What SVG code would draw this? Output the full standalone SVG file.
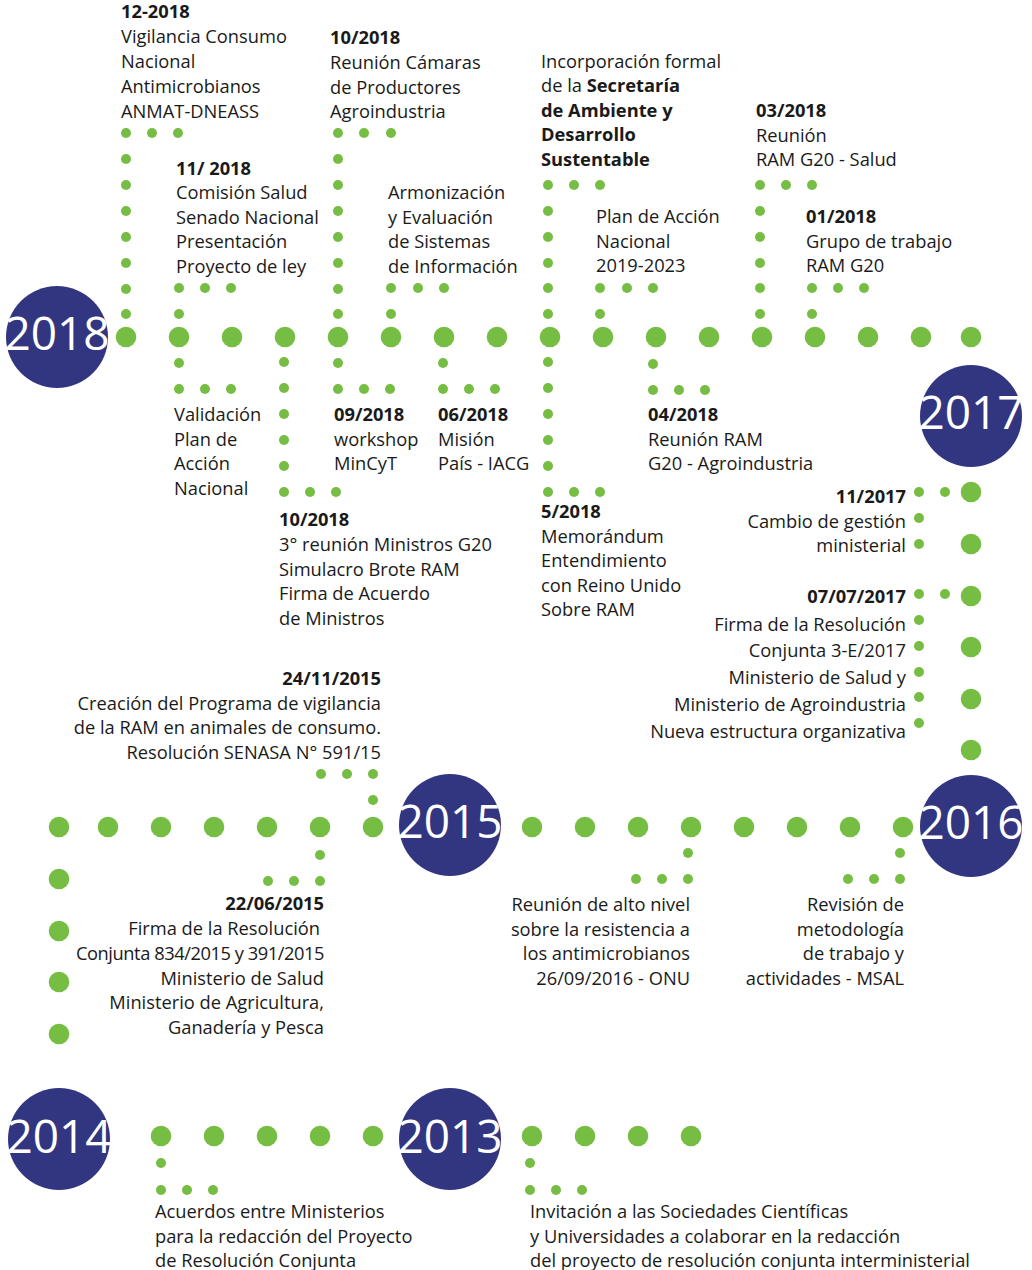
<svg xmlns="http://www.w3.org/2000/svg" width="1032" height="1270" viewBox="0 0 1032 1270">
<style>
text{font-family:"Open Sans","Noto Sans","Liberation Sans",sans-serif;font-size:18.3px;fill:#1a1a1a}
.b{font-weight:700}
.e{text-anchor:end}
.n{letter-spacing:-0.45px}
.yr{fill:#32357f}
text.yt{font-size:46px;fill:#ffffff;text-anchor:middle}
.g{fill:#76bd43}
</style>
<defs>
<circle id="B" r="10.3"/>
<circle id="s" r="5"/>
</defs>
<rect width="1032" height="1270" fill="#ffffff"/>

<g id="connectors" class="g">
  <g id="row-2018">
    <use href="#B" x="126" y="337"/><use href="#B" x="179" y="337"/><use href="#B" x="232" y="337"/><use href="#B" x="285" y="337"/>
    <use href="#B" x="338" y="337"/><use href="#B" x="391" y="337"/><use href="#B" x="444" y="337"/><use href="#B" x="497" y="337"/>
    <use href="#B" x="550" y="337"/><use href="#B" x="603" y="337"/><use href="#B" x="656" y="337"/><use href="#B" x="709" y="337"/>
    <use href="#B" x="762" y="337"/><use href="#B" x="815" y="337"/><use href="#B" x="868" y="337"/><use href="#B" x="921" y="337"/>
    <use href="#B" x="971" y="337"/>
  </g>
  <g id="col-2017">
    <use href="#B" x="971" y="492"/><use href="#B" x="971" y="544"/><use href="#B" x="971" y="596"/>
    <use href="#B" x="971" y="647"/><use href="#B" x="971" y="699"/><use href="#B" x="971" y="750"/>
  </g>
  <g id="row-2016-2015">
    <use href="#B" x="532" y="827"/><use href="#B" x="585" y="827"/><use href="#B" x="638" y="827"/><use href="#B" x="691" y="827"/>
    <use href="#B" x="744" y="827"/><use href="#B" x="797" y="827"/><use href="#B" x="850" y="827"/><use href="#B" x="903" y="827"/>
    <use href="#B" x="59" y="827"/><use href="#B" x="108" y="827"/><use href="#B" x="161" y="827"/><use href="#B" x="214" y="827"/>
    <use href="#B" x="267" y="827"/><use href="#B" x="320" y="827"/><use href="#B" x="373" y="827"/>
  </g>
  <g id="col-2015-2014">
    <use href="#B" x="59" y="879"/><use href="#B" x="59" y="931"/><use href="#B" x="59" y="982"/><use href="#B" x="59" y="1034"/>
  </g>
  <g id="row-2014-2013">
    <use href="#B" x="161" y="1136"/><use href="#B" x="214" y="1136"/><use href="#B" x="267" y="1136"/><use href="#B" x="320" y="1136"/><use href="#B" x="373" y="1136"/>
    <use href="#B" x="532" y="1136"/><use href="#B" x="585" y="1136"/><use href="#B" x="638" y="1136"/><use href="#B" x="691" y="1136"/>
  </g>
  <g id="branches">
    <use href="#s" x="126" y="133"/><use href="#s" x="152" y="133"/><use href="#s" x="178" y="133"/>
    <use href="#s" x="126" y="159"/><use href="#s" x="126" y="185"/><use href="#s" x="126" y="211"/><use href="#s" x="126" y="237"/>
    <use href="#s" x="126" y="263"/><use href="#s" x="126" y="289"/><use href="#s" x="126" y="314"/>
    <use href="#s" x="179" y="288"/><use href="#s" x="205" y="288"/><use href="#s" x="231" y="288"/><use href="#s" x="179" y="314"/>
    <use href="#s" x="338" y="133"/><use href="#s" x="364" y="133"/><use href="#s" x="391" y="133"/>
    <use href="#s" x="338" y="159"/><use href="#s" x="338" y="185"/><use href="#s" x="338" y="211"/><use href="#s" x="338" y="237"/>
    <use href="#s" x="338" y="263"/><use href="#s" x="338" y="289"/><use href="#s" x="338" y="314"/>
    <use href="#s" x="391" y="288"/><use href="#s" x="418" y="288"/><use href="#s" x="444" y="288"/><use href="#s" x="391" y="314"/>
    <use href="#s" x="548" y="185"/><use href="#s" x="574" y="185"/><use href="#s" x="600" y="185"/>
    <use href="#s" x="548" y="211"/><use href="#s" x="548" y="237"/><use href="#s" x="548" y="263"/><use href="#s" x="548" y="288"/><use href="#s" x="548" y="314"/>
    <use href="#s" x="600" y="288"/><use href="#s" x="627" y="288"/><use href="#s" x="653" y="288"/><use href="#s" x="600" y="314"/>
    <use href="#s" x="760" y="185"/><use href="#s" x="786" y="185"/><use href="#s" x="812" y="185"/>
    <use href="#s" x="760" y="211"/><use href="#s" x="760" y="237"/><use href="#s" x="760" y="263"/><use href="#s" x="760" y="288"/><use href="#s" x="760" y="314"/>
    <use href="#s" x="812" y="288"/><use href="#s" x="838" y="288"/><use href="#s" x="864" y="288"/><use href="#s" x="812" y="314"/>
    <use href="#s" x="179" y="363"/><use href="#s" x="179" y="389"/><use href="#s" x="205" y="389"/><use href="#s" x="231" y="389"/>
    <use href="#s" x="284" y="362"/><use href="#s" x="284" y="388"/><use href="#s" x="284" y="414"/><use href="#s" x="284" y="440"/>
    <use href="#s" x="284" y="466"/><use href="#s" x="284" y="492"/><use href="#s" x="310" y="492"/><use href="#s" x="336" y="492"/>
    <use href="#s" x="338" y="363"/><use href="#s" x="338" y="389"/><use href="#s" x="364" y="389"/><use href="#s" x="390" y="389"/>
    <use href="#s" x="443" y="363"/><use href="#s" x="443" y="389"/><use href="#s" x="469" y="389"/><use href="#s" x="495" y="389"/>
    <use href="#s" x="548" y="362"/><use href="#s" x="548" y="388"/><use href="#s" x="548" y="414"/><use href="#s" x="548" y="440"/>
    <use href="#s" x="548" y="466"/><use href="#s" x="548" y="492"/><use href="#s" x="574" y="492"/><use href="#s" x="600" y="492"/>
    <use href="#s" x="653" y="364"/><use href="#s" x="653" y="390"/><use href="#s" x="679" y="390"/><use href="#s" x="705" y="390"/>
    <use href="#s" x="919" y="492"/><use href="#s" x="945" y="492"/><use href="#s" x="919" y="518"/><use href="#s" x="919" y="544"/>
    <use href="#s" x="919" y="594"/><use href="#s" x="945" y="594"/><use href="#s" x="919" y="620"/><use href="#s" x="919" y="646"/>
    <use href="#s" x="919" y="672"/><use href="#s" x="919" y="697"/><use href="#s" x="919" y="723"/>
    <use href="#s" x="321" y="774"/><use href="#s" x="347" y="774"/><use href="#s" x="373" y="774"/><use href="#s" x="373" y="800"/>
    <use href="#s" x="320" y="855"/><use href="#s" x="268" y="881"/><use href="#s" x="294" y="881"/><use href="#s" x="320" y="881"/>
    <use href="#s" x="688" y="853"/><use href="#s" x="636" y="879"/><use href="#s" x="662" y="879"/><use href="#s" x="688" y="879"/>
    <use href="#s" x="900" y="853"/><use href="#s" x="848" y="879"/><use href="#s" x="874" y="879"/><use href="#s" x="900" y="879"/>
    <use href="#s" x="161" y="1163"/><use href="#s" x="161" y="1190"/><use href="#s" x="187" y="1190"/><use href="#s" x="213" y="1190"/>
    <use href="#s" x="530" y="1163"/><use href="#s" x="530" y="1190"/><use href="#s" x="556" y="1190"/><use href="#s" x="582" y="1190"/>
  </g>
</g>

<g id="year-2018"><circle class="yr" cx="57" cy="337" r="51"/><text class="yt" x="57" y="350">2018</text></g>
<g id="year-2017"><circle class="yr" cx="971" cy="416" r="51"/><text class="yt" x="971" y="429">2017</text></g>
<g id="year-2016"><circle class="yr" cx="971" cy="826" r="51"/><text class="yt" x="971" y="839">2016</text></g>
<g id="year-2015"><circle class="yr" cx="450" cy="825" r="51"/><text class="yt" x="450" y="838">2015</text></g>
<g id="year-2014"><circle class="yr" cx="59" cy="1139" r="51"/><text class="yt" x="59" y="1153">2014</text></g>
<g id="year-2013"><circle class="yr" cx="450" cy="1139" r="51"/><text class="yt" x="450" y="1153">2013</text></g>

<g id="ev-12-2018">
<text class="b" x="121" y="18">12-2018</text>
<text x="121" y="43">Vigilancia Consumo</text>
<text x="121" y="68">Nacional</text>
<text x="121" y="93">Antimicrobianos</text>
<text x="121" y="118">ANMAT-DNEASS</text>
</g>

<g id="ev-11-2018">
<text class="b" x="176" y="175">11/ 2018</text>
<text x="176" y="199">Comisión Salud</text>
<text x="176" y="224">Senado Nacional</text>
<text x="176" y="248">Presentación</text>
<text x="176" y="273">Proyecto de ley</text>
</g>

<g id="ev-10-2018-camaras">
<text class="b" x="330" y="44">10/2018</text>
<text x="330" y="69">Reunión Cámaras</text>
<text x="330" y="94">de Productores</text>
<text x="330" y="118">Agroindustria</text>
</g>

<g id="ev-armonizacion">
<text x="388" y="199">Armonización</text>
<text x="388" y="224">y Evaluación</text>
<text x="388" y="248">de Sistemas</text>
<text x="388" y="273">de Información</text>
</g>

<g id="ev-secretaria">
<text x="541" y="68">Incorporación formal</text>
<text x="541" y="92">de la <tspan class="b">Secretaría</tspan></text>
<text class="b" x="541" y="117">de Ambiente y</text>
<text class="b" x="541" y="141">Desarrollo</text>
<text class="b" x="541" y="166">Sustentable</text>
</g>

<g id="ev-plan-accion">
<text x="596" y="223">Plan de Acción</text>
<text x="596" y="248">Nacional</text>
<text x="596" y="272">2019-2023</text>
</g>

<g id="ev-03-2018">
<text class="b" x="756" y="117">03/2018</text>
<text x="756" y="142">Reunión</text>
<text x="756" y="166">RAM G20 - Salud</text>
</g>

<g id="ev-01-2018">
<text class="b" x="806" y="223">01/2018</text>
<text x="806" y="248">Grupo de trabajo</text>
<text x="806" y="272">RAM G20</text>
</g>

<g id="ev-validacion">
<text x="174" y="421">Validación</text>
<text x="174" y="446">Plan de</text>
<text x="174" y="470">Acción</text>
<text x="174" y="495">Nacional</text>
</g>

<g id="ev-10-2018-ministros">
<text class="b" x="279" y="526">10/2018</text>
<text x="279" y="551">3° reunión Ministros G20</text>
<text x="279" y="576">Simulacro Brote RAM</text>
<text x="279" y="600">Firma de Acuerdo</text>
<text x="279" y="625">de Ministros</text>
</g>

<g id="ev-09-2018">
<text class="b" x="334" y="421">09/2018</text>
<text x="334" y="446">workshop</text>
<text x="334" y="470">MinCyT</text>
</g>

<g id="ev-06-2018">
<text class="b" x="438" y="421">06/2018</text>
<text x="438" y="446">Misión</text>
<text x="438" y="470">País - IACG</text>
</g>

<g id="ev-5-2018">
<text class="b" x="541" y="518">5/2018</text>
<text x="541" y="543">Memorándum</text>
<text x="541" y="567">Entendimiento</text>
<text x="541" y="592">con Reino Unido</text>
<text x="541" y="616">Sobre RAM</text>
</g>

<g id="ev-04-2018">
<text class="b" x="648" y="421">04/2018</text>
<text x="648" y="446">Reunión RAM</text>
<text x="648" y="470">G20 - Agroindustria</text>
</g>

<g id="ev-11-2017">
<text class="b e" x="906" y="503">11/2017</text>
<text class="e" x="906" y="528">Cambio de gestión</text>
<text class="e" x="906" y="552">ministerial</text>
</g>

<g id="ev-07-07-2017">
<text class="b e" x="906" y="603">07/07/2017</text>
<text class="e" x="906" y="631">Firma de la Resolución</text>
<text class="e" x="906" y="657">Conjunta 3-E/2017</text>
<text class="e" x="906" y="684">Ministerio de Salud y</text>
<text class="e" x="906" y="711">Ministerio de Agroindustria</text>
<text class="e" x="906" y="738">Nueva estructura organizativa</text>
</g>

<g id="ev-24-11-2015">
<text class="b e" x="381" y="685">24/11/2015</text>
<text class="e" x="381" y="710">Creación del Programa de vigilancia</text>
<text class="e" x="381" y="734">de la RAM en animales de consumo.</text>
<text class="e" x="381" y="759">Resolución SENASA N° 591/15</text>
</g>

<g id="ev-22-06-2015">
<text class="b e" x="324" y="910">22/06/2015</text>
<text class="e" x="320" y="935">Firma de la Resolución</text>
<text class="e n" x="324" y="960">Conjunta 834/2015 y 391/2015</text>
<text class="e" x="324" y="985">Ministerio de Salud</text>
<text class="e" x="324" y="1009">Ministerio de Agricultura,</text>
<text class="e" x="324" y="1034">Ganadería y Pesca</text>
</g>

<g id="ev-onu-2016">
<text class="e" x="690" y="911">Reunión de alto nivel</text>
<text class="e" x="690" y="936">sobre la resistencia a</text>
<text class="e" x="690" y="960">los antimicrobianos</text>
<text class="e" x="690" y="985">26/09/2016 - ONU</text>
</g>

<g id="ev-msal-2016">
<text class="e" x="904" y="911">Revisión de</text>
<text class="e" x="904" y="936">metodología</text>
<text class="e" x="904" y="960">de trabajo y</text>
<text class="e" x="904" y="985">actividades - MSAL</text>
</g>

<g id="ev-2014">
<text x="155" y="1218">Acuerdos entre Ministerios</text>
<text x="155" y="1243">para la redacción del Proyecto</text>
<text x="155" y="1267">de Resolución Conjunta</text>
</g>

<g id="ev-2013">
<text x="530" y="1218">Invitación a las Sociedades Científicas</text>
<text x="530" y="1243">y Universidades a colaborar en la redacción</text>
<text x="530" y="1267">del proyecto de resolución conjunta interministerial</text>
</g>
</svg>
